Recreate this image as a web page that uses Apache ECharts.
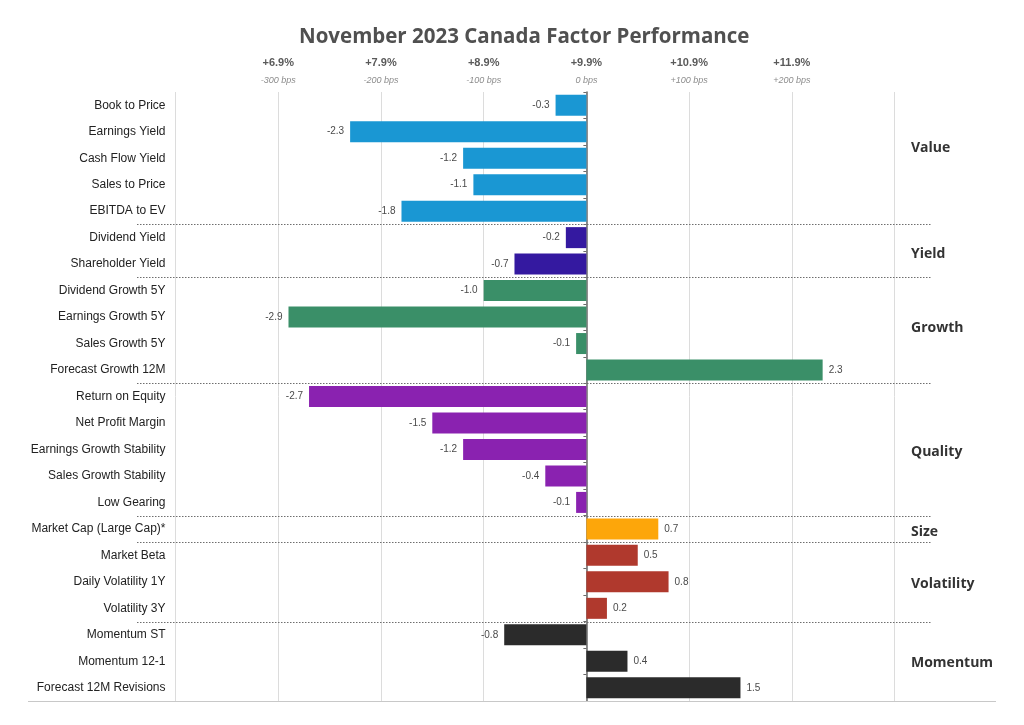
<!DOCTYPE html>
<html><head><meta charset="utf-8">
<script src="https://cdn.jsdelivr.net/npm/echarts@6/dist/echarts.min.js"></script>
<style>html,body{margin:0;padding:0;background:#fff}#c{width:1024px;height:725px}</style>
</head><body><div id="c"></div>
<script>
// ---- data ----
const categories = ['Book to Price','Earnings Yield','Cash Flow Yield','Sales to Price','EBITDA to EV',
  'Dividend Yield','Shareholder Yield',
  'Dividend Growth 5Y','Earnings Growth 5Y','Sales Growth 5Y','Forecast Growth 12M',
  'Return on Equity','Net Profit Margin','Earnings Growth Stability','Sales Growth Stability','Low Gearing',
  'Market Cap (Large Cap)*',
  'Market Beta','Daily Volatility 1Y','Volatility 3Y',
  'Momentum ST','Momentum 12-1','Forecast 12M Revisions'];
const values = [-0.3,-2.3,-1.2,-1.1,-1.8, -0.2,-0.7, -1.0,-2.9,-0.1,2.3, -2.7,-1.5,-1.2,-0.4,-0.1, 0.7, 0.5,0.8,0.2, -0.8,0.4,1.5];
const groupNames = ['Value','Yield','Growth','Quality','Size','Volatility','Momentum'];
const groupSizes = [5,2,4,5,1,3,3];
const tickValues = [-3,-2,-1,0,1,2];
const tickPct = ['+6.9%','+7.9%','+8.9%','+9.9%','+10.9%','+11.9%'];
const tickBps = ['-300 bps','-200 bps','-100 bps','0 bps','+100 bps','+200 bps'];

// ---- styling ----
const groupColors = ['#1a97d3','#3419a0','#3a8f68','#8a22b0','#fda60a','#b0392d','#2b2b2b'];
const groupLabelRow = [1.6, 5.6, 8.4, 13.1, 16.1, 18.1, 21.05];
const F = '"Liberation Sans", Arial, sans-serif';

const groupOf = [];
groupSizes.forEach((n, g) => { for (let k = 0; k < n; k++) groupOf.push(g); });

const chart = echarts.init(document.getElementById('c'), null, {renderer: 'canvas'});
const XMIN = -4, XMAX = 3.35;

chart.setOption({
  animation: false,
  backgroundColor: '#ffffff',
  title: {
    text: 'November 2023 Canada Factor Performance',
    left: 294, top: 22,
    textStyle: {fontFamily: '"Open Sans", sans-serif', fontSize: 20.5, fontWeight: 'bold', color: '#505050'}
  },
  grid: {left: 175.5, right: 93.5, top: 92, bottom: 24, containLabel: false, outerBoundsMode: 'none'},
  xAxis: {
    type: 'value', position: 'top', min: XMIN, max: XMAX, interval: 1,
    axisLine: {show: false}, axisTick: {show: false},
    splitLine: {show: true, lineStyle: {color: ['#dcdcdc','#dcdcdc','#dcdcdc','#dcdcdc','#dcdcdc','#dcdcdc','#dcdcdc','#dcdcdc','rgba(0,0,0,0)'], width: 1}},
    axisLabel: {
      margin: 5, showMinLabel: true, showMaxLabel: true,
      formatter: v => {
        const i = tickValues.indexOf(Math.round(v * 100) / 100);
        return i < 0 ? '' : '{a|' + tickPct[i] + '}\n{b|' + tickBps[i] + '}';
      },
      rich: {
        a: {fontFamily: F, fontSize: 11, fontWeight: 'bold', color: '#5a5a5a', lineHeight: 20, align: 'center'},
        b: {fontFamily: F, fontSize: 9, fontStyle: 'italic', color: '#8c8c8c', lineHeight: 14, align: 'center'}
      }
    }
  },
  yAxis: [{
    type: 'category', data: categories, inverse: true, position: 'left',
    axisLine: {show: false, onZero: false}, axisTick: {show: false}, splitLine: {show: false},
    axisLabel: {fontFamily: F, fontSize: 12, color: '#222', margin: 10}
  }, {
    type: 'category', data: categories, inverse: true, position: 'left',
    axisLine: {show: true, onZero: true, lineStyle: {color: '#6a6a6a', width: 1.5}},
    axisTick: {show: true, length: 3, lineStyle: {color: '#6a6a6a'}},
    axisLabel: {show: false}, splitLine: {show: false}
  }],
  series: [{
    type: 'bar', yAxisIndex: 0, barWidth: 21, z: 2,
    data: values.map((v, i) => ({
      value: v,
      itemStyle: {color: groupColors[groupOf[i]]},
      label: {position: v < 0 ? 'left' : 'right'}
    })),
    label: {
      show: true, distance: 6, fontFamily: F, fontSize: 10, color: '#4a4a4a',
      formatter: p => p.value.toFixed(1)
    }
  }]
});

// ---- decorations positioned from the chart's own scales ----
const y0 = chart.convertToPixel({yAxisIndex: 0}, 0);
const y1 = chart.convertToPixel({yAxisIndex: 0}, 1);
const step = y1 - y0;
const xRight = chart.convertToPixel({xAxisIndex: 0}, XMAX);
const yBottom = y0 + (categories.length - 0.5) * step;
const graphics = [];
let idx = 0;
groupSizes.forEach((n, g) => {
  idx += n;
  if (g < groupSizes.length - 1) {
    const y = Math.round(y0 + (idx - 0.5) * step) + 0.5;
    graphics.push({type: 'line', z: 10, shape: {x1: 137, y1: y, x2: xRight, y2: y},
      style: {stroke: '#6e6e6e', lineWidth: 1, lineDash: [1.5, 1.5]}});
  }
  graphics.push({type: 'text', z: 10, x: 911, y: y0 + groupLabelRow[g] * step,
    style: {text: groupNames[g], fontFamily: '"Open Sans", sans-serif', fontSize: 14, fontWeight: 'bold', fill: '#333',
      textAlign: 'left', textVerticalAlign: 'middle'}});
});
graphics.push({type: 'line', z: 10, shape: {x1: 28, y1: Math.round(yBottom) + 0.5, x2: 996, y2: Math.round(yBottom) + 0.5},
  style: {stroke: '#c8c8c8', lineWidth: 1}});
chart.setOption({graphic: graphics});
</script>
</body></html>
